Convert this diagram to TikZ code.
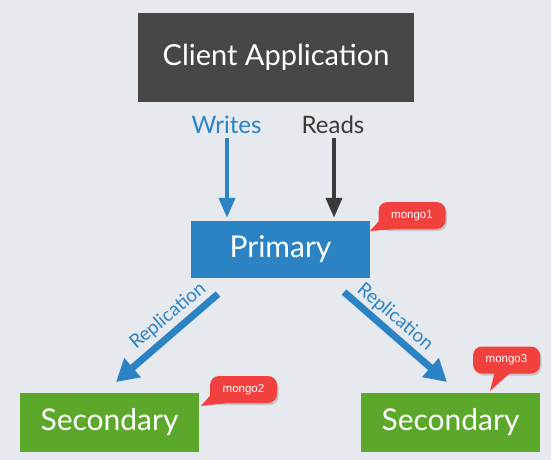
\documentclass[tikz,border=0pt]{standalone}
\usepackage{fontspec}
\setmainfont{Lato}
\newfontfamily\smallsans{Liberation Sans}
\usetikzlibrary{arrows.meta,shadows,calc}
\definecolor{bg}{HTML}{E6E9EE}
\definecolor{darkbox}{HTML}{474745}
\definecolor{pblue}{HTML}{2B83C4}
\definecolor{sgreen}{HTML}{5BA82A}
\definecolor{cred}{HTML}{F2403F}
\definecolor{rtext}{HTML}{3A3A3A}
\tikzset{
  boxnode/.style={inner sep=0pt, text=white, font=\fontsize{30}{34}\selectfont},
  lbl/.style={inner sep=0pt, font=\fontsize{24}{28}\selectfont},
  thinarrow/.style={line width=4pt, -{Triangle[length=20pt,width=16pt]}},
  reparrow/.style={line width=7pt, draw=pblue, -{Triangle[length=22pt,width=24pt]}},
  replbl/.style={inner sep=0pt, text=pblue, font=\fontsize{19}{22}\selectfont},
  bubble/.style={fill=cred, rounded corners=9pt, minimum width=67pt, minimum height=27pt, inner sep=0pt,
    text=white, font=\smallsans\fontsize{11.5}{13}\selectfont,
    drop shadow={opacity=0.35, shadow xshift=1.5pt, shadow yshift=-2pt}},
  tail/.style={fill=cred}
}
\begin{document}
\begin{tikzpicture}[x=1pt,y=-1pt]
\fill[bg] (0,0) rectangle (551,460);
\useasboundingbox (0,0) rectangle (551,460);
% boxes
\node[boxnode, fill=darkbox, minimum width=276pt, minimum height=89pt, font=\fontsize{29}{33}\selectfont] (client) at (276,57.5) {Client Application};
\node[boxnode, fill=pblue, minimum width=179pt, minimum height=57pt] (primary) at (280.5,249.5) {Primary};
\node[boxnode, fill=sgreen, minimum width=179pt, minimum height=59pt] (sec1) at (109.5,422.5) {Secondary};
\node[boxnode, fill=sgreen, minimum width=179pt, minimum height=59pt] (sec2) at (450.5,422.5) {Secondary};
% labels
\node[lbl, text=pblue] (writes) at (226.5,125) {Writes};
\node[lbl, text=rtext] (reads) at (333,125) {Reads};
% arrows
\coordinate (wtop) at (227,138);
\coordinate (rtop) at (334,138);
\draw[thinarrow, draw=pblue, fill=pblue] (wtop) -- ($(wtop |- primary.north)+(0,-3)$);
\draw[thinarrow, draw=rtext, fill=rtext] (rtop) -- ($(rtop |- primary.north)+(0,-3)$);
% replication arrows
\coordinate (r1s) at (218,294);
\coordinate (r1e) at (116,382);
\coordinate (r2s) at (344,292);
\coordinate (r2e) at (447,382);
\draw[reparrow] (r1s) -- (r1e);
\draw[reparrow] (r2s) -- (r2e);
\node[replbl, rotate=40] (rep1) at (168,316) {Replication};
\node[replbl, rotate=-40] (rep2) at (395,317) {Replication};
% callouts
\node[bubble] (m1) at (412,215.5) {mongo1};
\coordinate (t1) at (370,231);
\fill[tail] ($(m1.west)+(3,3)$) -- (t1) -- ($(m1.south west)+(16,0)$) -- cycle;
\node[bubble] (m2) at (243.5,389.5) {mongo2};
\coordinate (t2) at (201,406);
\fill[tail] ($(m2.west)+(3,3)$) -- (t2) -- ($(m2.south west)+(16,0)$) -- cycle;
\node[bubble] (m3) at (506.5,360) {mongo3};
\coordinate (t3) at (490,391);
\fill[tail] ($(m3.south)+(-12,-1)$) -- (t3) -- ($(m3.south)+(4,-1)$) -- cycle;
\end{tikzpicture}
\end{document}
